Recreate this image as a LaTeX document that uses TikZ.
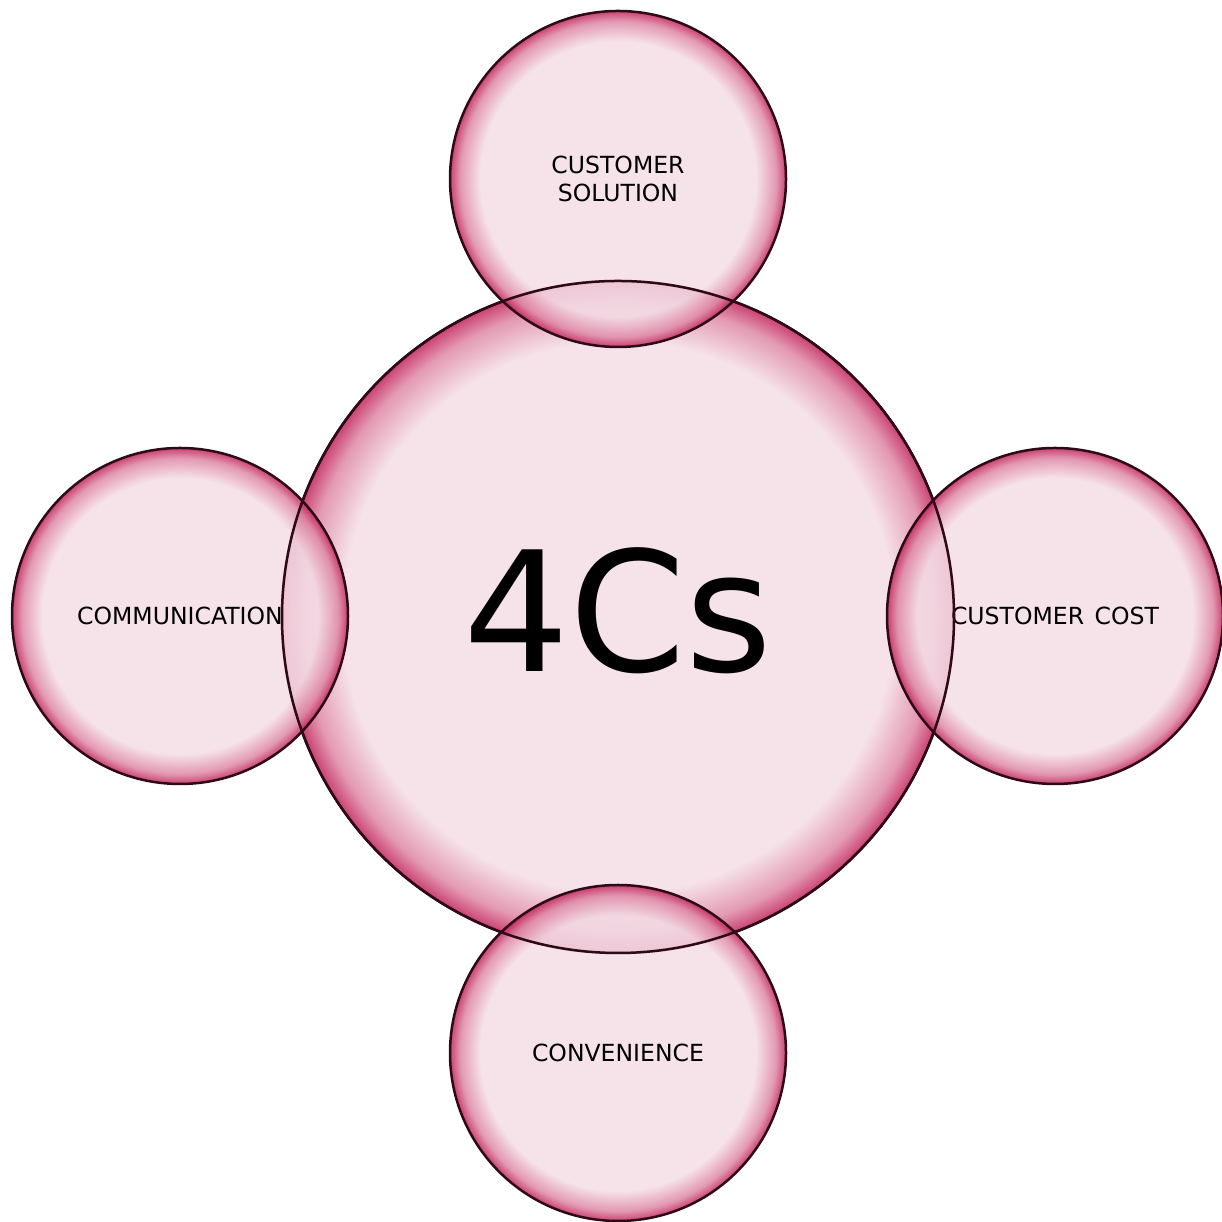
\documentclass[tikz,border=0pt]{standalone}
\usepackage{fontspec}
\setmainfont{DejaVu Sans}
% Changing color for bubbles
\definecolor{r244g222b230}{rgb}{0.956863,0.870588,0.901961}%
\definecolor{r222g135b165}{rgb}{0.870588,0.529412,0.647059}%
\definecolor{r193g33b89}{rgb}{0.756863,0.129412,0.349020}%
\definecolor{r45g10b22}{rgb}{0.176471,0.039216,0.086275}%
\pgfdeclareradialshading{bubble}{\pgfpoint{0bp}{0bp}}{color(0bp)=(r244g222b230); color(20.5bp)=(r244g222b230); color(23.5bp)=(r222g135b165); color(25bp)=(r193g33b89); color(50bp)=(r193g33b89)}
\tikzset{
  bubblebig/.style={circle, shading=bubble, fill opacity=0.85, text opacity=1, draw=r45g10b22, draw opacity=1, line width=0.025cm, inner sep=0pt, minimum size=6.72cm},
  bubblesmall/.style={bubblebig, minimum size=3.36cm, align=center, font=\fontsize{6.7pt}{8pt}\selectfont}
}
\begin{document}
\begin{tikzpicture}
                        \useasboundingbox (0.000000,0.000000) rectangle (12.220000,12.220000);

                        % Drawing circle 4Cs
                        \node [bubblebig] (center) at (6.180000,6.050000) {};%
                        \node [font=\fontsize{47.5pt}{50pt}\selectfont, inner sep=0pt] (title) at (6.180000,6.110000) {4Cs};%

                        % Drawing circle customer solution
                        \node [bubblesmall] (solution) at (6.180000,10.430000) {CUSTOMER\\SOLUTION};%

                        % Drawing circle communication
                        \node [bubblesmall] (communication) at (1.800000,6.060000) {COMMUNICATION};%

                        % Drawing circle customer cost
                        \node [bubblesmall] (cost) at (10.550000,6.060000) {CUSTOMER\hspace{0.45em}COST};%

                        % Drawing circle convenience
                        \node [bubblesmall] (convenience) at (6.180000,1.690000) {CONVENIENCE};%

                        % Redrawing outline 4Cs
                        \draw [r45g10b22, line width=0.025cm] (center.center) circle (3.360000);%
\end{tikzpicture}
\end{document}
